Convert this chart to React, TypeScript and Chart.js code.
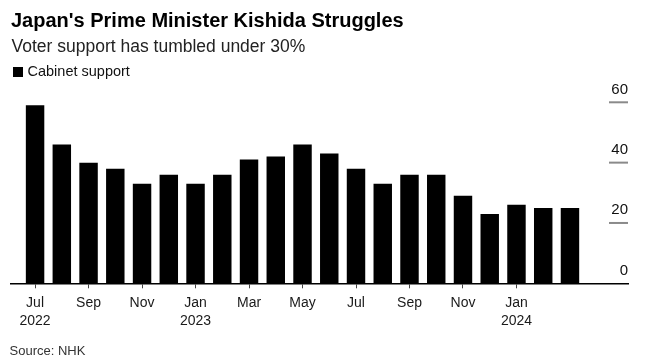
import React, { useEffect, useRef } from "react";
import { Chart, registerables } from "chart.js";

Chart.register(...registerables);

const FONT = "'Liberation Sans', Arial, Helvetica, sans-serif";

// Monthly NHK cabinet support (%), Jul 2022 – Mar 2024
const months = [
  "Jul 2022", "Aug 2022", "Sep 2022", "Oct 2022", "Nov 2022", "Dec 2022",
  "Jan 2023", "Feb 2023", "Mar 2023", "Apr 2023", "May 2023", "Jun 2023",
  "Jul 2023", "Aug 2023", "Sep 2023", "Oct 2023", "Nov 2023", "Dec 2023",
  "Jan 2024", "Feb 2024", "Mar 2024",
];
const support = [59, 46, 40, 38, 33, 36, 33, 36, 41, 42, 46, 43, 38, 33, 36, 36, 29, 23, 26, 25, 25];

const xTickIndices = [0, 2, 4, 6, 8, 10, 12, 14, 16, 18];
const xTickLabels: string[][] = [
  ["Jul", "2022"], ["Sep"], ["Nov"], ["Jan", "2023"], ["Mar"],
  ["May"], ["Jul"], ["Sep"], ["Nov"], ["Jan", "2024"],
];
const yTicks = [0, 20, 40, 60];

const yAxisPlugin = {
  id: "rightValueAxis",
  afterDraw(chart: any) {
    const { ctx, chartArea, scales } = chart;
    const y = scales.y;
    ctx.save();
    ctx.font = `15px ${FONT}`;
    ctx.fillStyle = "#111";
    ctx.textAlign = "right";
    ctx.textBaseline = "alphabetic";
    yTicks.forEach((v) => {
      const py = y.getPixelForValue(v);
      if (v !== 0) {
        ctx.strokeStyle = "#8a8a8a";
        ctx.lineWidth = 2;
        ctx.beginPath();
        ctx.moveTo(chartArea.right - 19, py);
        ctx.lineTo(chartArea.right, py);
        ctx.stroke();
      }
      ctx.fillText(String(v), chartArea.right, py - 8.5);
    });
    ctx.restore();
  },
};

export default function App() {
  const ref = useRef<HTMLCanvasElement>(null);

  useEffect(() => {
    if (!ref.current) return;
    const chart = new Chart(ref.current, {
      type: "bar",
      data: {
        datasets: [
          {
            label: "Cabinet support",
            data: months.map((_, i) => ({ x: i, y: support[i] })),
            backgroundColor: "#000",
            borderWidth: 0,
            barPercentage: 0.69,
            categoryPercentage: 1,
          },
        ],
      },
      options: {
        animation: false,
        responsive: false,
        events: [],
        layout: { padding: { left: 11, right: 27, top: 102.3, bottom: 29.7 } },
        plugins: {
          legend: { display: false },
          tooltip: { enabled: false },
          title: { display: false },
        },
        scales: {
          x: {
            type: "linear",
            min: -0.9,
            max: 22.17,
            offset: false,
            afterBuildTicks: (scale: any) => {
              scale.ticks = xTickIndices.map((v) => ({ value: v }));
            },
            afterFit: (scale: any) => {
              scale.height = 50;
            },
            grid: {
              offset: false,
              drawOnChartArea: false,
              drawTicks: true,
              tickLength: 5,
              color: "#444",
              lineWidth: 1,
            },
            border: { display: true, color: "#000", width: 1.5 },
            ticks: {
              autoSkip: false,
              maxRotation: 0,
              minRotation: 0,
              padding: 6,
              color: "#1a1a1a",
              font: { family: FONT, size: 14, lineHeight: "18px" },
              callback: (value: any) => {
                const idx = xTickIndices.indexOf(Number(value));
                return idx >= 0 ? xTickLabels[idx] : "";
              },
            },
          },
          y: {
            display: false,
            min: 0,
            max: 60,
          },
        },
      } as any,
      plugins: [yAxisPlugin],
    });
    return () => chart.destroy();
  }, []);

  return (
    <div
      style={{
        position: "absolute",
        left: 0,
        top: 0,
        width: 655,
        height: 363,
        background: "#fff",
        fontFamily: FONT,
        overflow: "hidden",
      }}
    >
      <canvas
        ref={ref}
        width={655}
        height={363}
        style={{ position: "absolute", left: 0, top: 0, width: 655, height: 363 }}
      />
      <div
        style={{
          position: "absolute",
          left: 11,
          top: 9.8,
          fontSize: 20,
          lineHeight: "20px",
          fontWeight: 700,
          color: "#000",
          whiteSpace: "nowrap",
        }}
      >
        Japan's Prime Minister Kishida Struggles
      </div>
      <div
        style={{
          position: "absolute",
          left: 11.5,
          top: 37.5,
          fontSize: 17.5,
          lineHeight: "17.5px",
          color: "#222",
          whiteSpace: "nowrap",
        }}
      >
        Voter support has tumbled under 30%
      </div>
      <div
        style={{
          position: "absolute",
          left: 13,
          top: 67,
          width: 9.5,
          height: 9.5,
          background: "#000",
        }}
      />
      <div
        style={{
          position: "absolute",
          left: 27.5,
          top: 63.7,
          fontSize: 14.5,
          lineHeight: "14.5px",
          color: "#111",
          whiteSpace: "nowrap",
        }}
      >
        Cabinet support
      </div>
      <div
        style={{
          position: "absolute",
          left: 9.5,
          top: 344,
          fontSize: 13,
          lineHeight: "13px",
          color: "#333",
          whiteSpace: "nowrap",
        }}
      >
        Source: NHK
      </div>
    </div>
  );
}
